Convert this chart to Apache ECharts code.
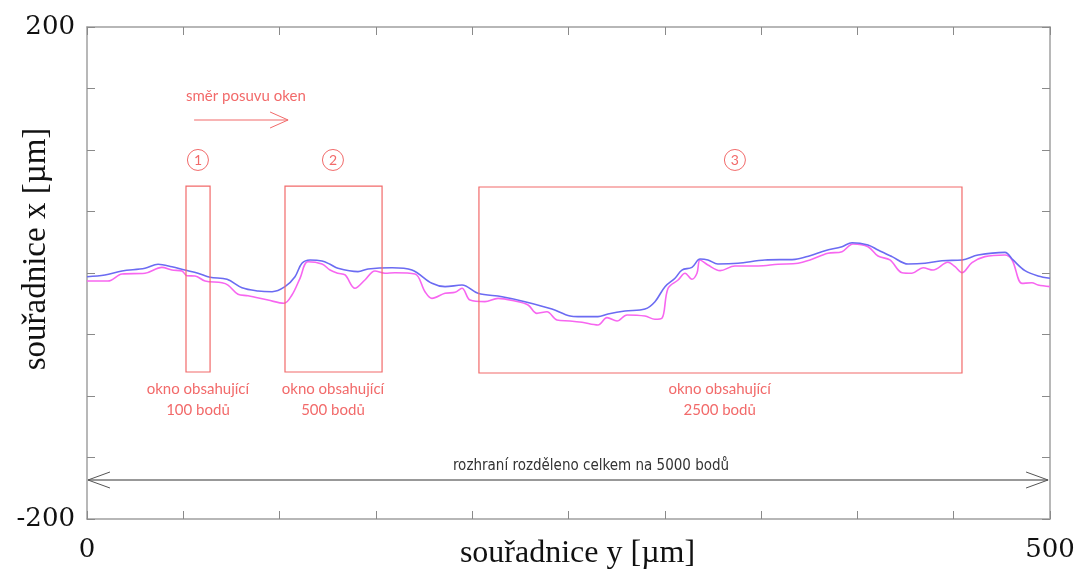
<!DOCTYPE html>
<html><head><meta charset="utf-8">
<script src="https://cdn.jsdelivr.net/npm/echarts@6/dist/echarts.min.js"></script>
<style>html,body{margin:0;padding:0;background:#fff}#c{width:1074px;height:570px}</style>
</head><body><div id="c"></div>
<script>
// Profile data (souřadnice y [µm] vs souřadnice x [µm])
const blueX = [0, 9.3, 18.2, 30.1, 36.9, 44.1, 50.8, 57.6, 63.9, 72.7, 80.5, 88.8, 96.1, 102.8, 108.0, 111.6, 115.8, 122.0, 126.2, 130.3, 140.7, 145.9, 158.4, 168.7, 179.1, 185.9, 194.7, 203.0, 215.5, 227.4, 241.4, 250.8, 254.9, 265.3, 270.5, 279.3, 289.7, 294.9, 300.1, 305.3, 308.9, 314.1, 318.3, 322.4, 327.6, 338.0, 352.0, 367.6, 375.4, 383.2, 392.0, 397.2, 405.5, 410.7, 418.0, 426.3, 435.1, 443.9, 454.3, 462.6, 476.6, 480.8, 487.0, 493.8, 500];
const blueY = [-3.0, -1.6, 1.6, 3.8, 7.1, 5.1, 2.4, -0.2, -3.5, -5.1, -12.0, -14.6, -15.2, -11.1, -3.0, 7.9, 10.6, 9.8, 7.1, 3.8, 1.1, 3.3, 4.3, 2.4, -8.4, -11.1, -9.8, -16.5, -19.3, -23.3, -29.3, -35.0, -35.5, -35.5, -33.3, -30.9, -29.3, -23.3, -11.1, -4.3, 2.4, 4.6, 11.4, 10.6, 7.3, 7.9, 10.6, 11.1, 14.1, 18.1, 21.4, 24.6, 22.8, 18.7, 13.3, 7.3, 7.9, 10.0, 10.6, 14.6, 16.8, 10.6, 1.9, -2.4, -4.3];
const magX = [0, 10.9, 18.2, 30.1, 38.9, 44.1, 49.3, 51.9, 56.1, 61.3, 70.1, 73.2, 78.4, 83.6, 94.0, 102.3, 106.4, 110.6, 114.7, 122.0, 126.2, 130.3, 134.0, 139.1, 144.3, 149.5, 154.7, 159.9, 170.3, 175.5, 179.1, 185.9, 191.1, 194.7, 198.9, 206.6, 213.4, 222.2, 229.0, 233.6, 238.8, 244.0, 250.8, 257.0, 265.3, 270.0, 275.2, 280.4, 289.7, 294.9, 298.5, 301.7, 306.9, 310.5, 314.1, 316.7, 318.3, 322.4, 328.7, 336.4, 348.4, 358.8, 369.2, 375.4, 384.7, 392.0, 397.7, 405.5, 410.7, 416.9, 423.2, 428.3, 434.1, 439.3, 447.0, 450.7, 454.3, 459.5, 466.2, 476.6, 480.3, 485.5, 490.6, 493.8, 500];
const magY = [-6.5, -6.5, -0.8, -0.2, 4.6, 2.4, 1.6, -2.2, -2.4, -6.5, -7.9, -9.8, -17.3, -18.5, -22.0, -24.6, -17.9, -4.3, 9.2, 7.3, 2.4, -0.2, -1.6, -12.4, -5.7, 1.6, -0.2, 0.2, -0.8, -15.2, -20.6, -16.5, -15.7, -12.4, -22.0, -23.3, -20.6, -22.8, -26.0, -32.8, -31.5, -38.2, -39.0, -40.1, -42.3, -36.3, -39.0, -34.1, -35.0, -37.6, -36.8, -12.4, -5.7, -0.2, -5.1, -0.2, 10.6, 6.5, 1.9, 5.7, 5.7, 7.1, 7.9, 10.6, 16.0, 17.3, 23.6, 21.4, 13.8, 10.6, 0.2, -0.2, 4.3, 2.4, 8.7, 5.1, 0.2, 8.4, 13.3, 14.6, 10.6, -8.4, -7.9, -9.8, -11.1];
const xTickLabels = ['0', '500'];
const yTickLabels = ['200', '-200'];

// Annotation windows in data units: [x1, x2, yTop, yBottom]
const windows = [[51.4, 63.9, 70.7, -80.5], [102.8, 153.2, 70.7, -80.5], [203.5, 454.3, 69.9, -81.3]];
const windowNums = ['1', '2', '3'];
const windowNumX = [57.6, 127.7, 336.4];
const windowNumY = 91.9;
const windowLabels = ['okno obsahující\n100 bodů', 'okno obsahující\n500 bodů', 'okno obsahující\n2500 bodů'];
const windowLabelX = [57.6, 127.7, 328.5];
const windowLabelY = -103;
const dirText = 'směr posuvu oken';
const dirTextPos = [82.5, 143.9];
const dirArrow = [55.6, 104.4, 124.4];
const totalText = 'rozhraní rozděleno celkem na 5000 bodů';
const totalTextPos = [261.7, -156.9];
const totalArrow = [0.5, 499, -168.3];

const zip = (a, b) => a.map((v, i) => [v, b[i]]);
const RED = '#f26a6a';
const chart = echarts.init(document.getElementById('c'), null, {renderer: 'canvas'});
const axisLine = {show: true, onZero: false, lineStyle: {color: '#a0a0a0', width: 1.5}};
const axisTick = {show: true, inside: true, length: 8, lineStyle: {color: '#8a8a8a', width: 1}};
const serif = "'Liberation Serif', 'DejaVu Serif', serif";
const labelSerif = "'DejaVu Serif', serif";
chart.setOption({
  animation: false,
  backgroundColor: '#fff',
  grid: {left: 87, right: 24, top: 27, bottom: 51, containLabel: false, outerBoundsMode: 'none'},
  xAxis: [{
    type: 'value', min: 0, max: 500, interval: 50, position: 'bottom',
    axisLine, axisTick, splitLine: {show: false},
    axisLabel: {margin: 18, fontFamily: labelSerif, fontSize: 26, color: '#111',
      formatter: v => xTickLabels.includes(String(v)) ? String(v) : ''},
    name: 'souřadnice y [µm]', nameLocation: 'middle', nameGap: 19, nameMoveOverlap: false,
    nameTextStyle: {fontFamily: serif, fontSize: 32, color: '#111', padding: [0, 0, 0, 18]}
  }, {
    type: 'value', min: 0, max: 500, interval: 50, position: 'top',
    axisLine, axisTick, splitLine: {show: false}, axisLabel: {show: false}
  }],
  yAxis: [{
    type: 'value', min: -200, max: 200, interval: 50, position: 'left',
    axisLine, axisTick, splitLine: {show: false},
    axisLabel: {margin: 12, fontFamily: labelSerif, fontSize: 26, color: '#111',
      formatter: v => yTickLabels.includes(String(v)) ? String(v) : ''},
    name: 'souřadnice x [µm]', nameLocation: 'middle', nameGap: 34, nameRotate: 90, nameMoveOverlap: false,
    nameTextStyle: {fontFamily: serif, fontSize: 33, color: '#111', padding: [0, 0, 0, 48]}
  }, {
    type: 'value', min: -200, max: 200, interval: 50, position: 'right',
    axisLine, axisTick, splitLine: {show: false}, axisLabel: {show: false}
  }],
  series: [{
    type: 'line', data: zip(magX, magY), showSymbol: false, smooth: 0.35,
    lineStyle: {color: '#f766f0', width: 1.6}, z: 3
  }, {
    type: 'line', data: zip(blueX, blueY), showSymbol: false, smooth: 0.35,
    lineStyle: {color: '#6b6bf2', width: 1.6}, z: 4
  }]
});

const P = (x, y) => chart.convertToPixel({xAxisIndex: 0, yAxisIndex: 0}, [x, y]);
const els = [];
const sans = "Lato, 'Open Sans', sans-serif";
windows.forEach((w, i) => {
  const a = P(w[0], w[2]), b = P(w[1], w[3]);
  els.push({type: 'rect', shape: {x: a[0], y: a[1], width: b[0] - a[0], height: b[1] - a[1]},
    style: {fill: 'none', stroke: RED, lineWidth: 1.2}, z: 10});
  const c = P(windowNumX[i], windowNumY);
  els.push({type: 'circle', shape: {cx: c[0], cy: c[1], r: 10.5},
    style: {fill: 'none', stroke: RED, lineWidth: 1}, z: 10});
  els.push({type: 'text', x: c[0], y: c[1] + 1, style: {text: windowNums[i], fill: RED,
    font: "14px " + sans, align: 'center', verticalAlign: 'middle'}, z: 10});
  const t = P(windowLabelX[i], windowLabelY);
  els.push({type: 'text', x: t[0], y: t[1], style: {text: windowLabels[i], fill: RED,
    font: "15px " + sans, align: 'center', verticalAlign: 'middle', lineHeight: 21}, z: 10});
});
// direction arrow
{
  const a = P(dirArrow[0], dirArrow[2]), b = P(dirArrow[1], dirArrow[2]);
  els.push({type: 'line', shape: {x1: a[0], y1: a[1], x2: b[0], y2: b[1]}, style: {stroke: RED, lineWidth: 1.2}, z: 10});
  els.push({type: 'polyline', shape: {points: [[b[0] - 18, b[1] - 8], [b[0], b[1]], [b[0] - 18, b[1] + 8]]},
    style: {stroke: RED, lineWidth: 1, fill: 'none'}, z: 10});
  const t = P(dirTextPos[0], dirTextPos[1]);
  els.push({type: 'text', x: t[0], y: t[1], style: {text: dirText, fill: RED,
    font: "15px " + sans, align: 'center', verticalAlign: 'middle'}, z: 10});
}
// total arrow
{
  const a = P(totalArrow[0], totalArrow[2]), b = P(totalArrow[1], totalArrow[2]);
  els.push({type: 'line', shape: {x1: a[0], y1: a[1], x2: b[0], y2: b[1]}, style: {stroke: '#333', lineWidth: 1}, z: 10});
  els.push({type: 'polyline', shape: {points: [[b[0] - 22, b[1] - 8], [b[0], b[1]], [b[0] - 22, b[1] + 8]]},
    style: {stroke: '#555', lineWidth: 1, fill: 'none'}, z: 10});
  els.push({type: 'polyline', shape: {points: [[a[0] + 22, a[1] - 8], [a[0], a[1]], [a[0] + 22, a[1] + 8]]},
    style: {stroke: '#555', lineWidth: 1, fill: 'none'}, z: 10});
  const t = P(totalTextPos[0], totalTextPos[1]);
  els.push({type: 'text', x: t[0], y: t[1], style: {text: totalText, fill: '#333',
    font: "15px 'Liberation Sans Narrow', 'DejaVu Sans Condensed', sans-serif", align: 'center', verticalAlign: 'middle'}, z: 10});
}
chart.setOption({graphic: {elements: els}});
</script>
</body></html>
